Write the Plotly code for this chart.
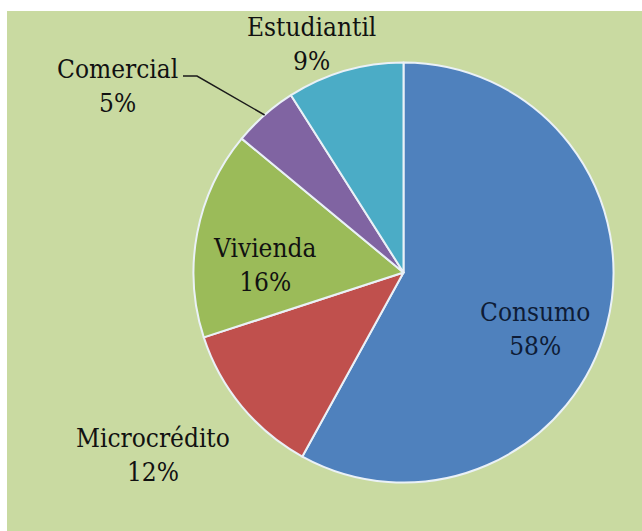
import math
import plotly.graph_objects as go

# Loan portfolio composition by credit type (percent)
labels = ["Consumo", "Microcrédito", "Vivienda", "Comercial", "Estudiantil"]
shares = [58, 12, 16, 5, 9]
colors = ["#4f81bd", "#c0504d", "#9bbb59", "#8064a2", "#4bacc6"]

W, H = 642, 531
BG = "#c9daa1"
SERIF = "DejaVu Serif Condensed, DejaVu Serif"

# Pie geometry in pixels
cx, cy, R = 403.5, 272.5, 210

# Label centres in pixels, one per category (same order as labels)
label_px = [(535, 329), (153, 455), (264, 265), (117, 86), (311, 44)]
label_colors = ["#0e1c36", "#111111", "#111111", "#111111", "#111111"]


def px(x):
    return x / W


def py(y):
    return 1 - y / H


fig = go.Figure(
    go.Pie(
        labels=labels,
        values=shares,
        sort=False,
        direction="clockwise",
        rotation=0,
        marker=dict(colors=colors, line=dict(color="#eaf1f7", width=2)),
        textinfo="none",
        hoverinfo="label+percent",
        showlegend=False,
        domain=dict(x=[px(cx - R), px(cx + R)], y=[py(cy + R), py(cy - R)]),
    )
)

annotations = []
for lab, val, (lx, ly), col in zip(labels, shares, label_px, label_colors):
    annotations.append(
        dict(
            x=px(lx), y=py(ly), xref="paper", yref="paper",
            text=f"{lab}<br>{val}%", showarrow=False,
            xanchor="center", yanchor="middle", align="center",
            font=dict(family=SERIF, size=26, color=col),
        )
    )

# Leader line for the small "Comercial" slice, pointing at its mid-angle
total = sum(shares)
start = sum(shares[:3]) / total * 360
mid = start + shares[3] / total * 360 / 2
ex = cx + R * math.sin(math.radians(mid))
ey = cy - R * math.cos(math.radians(mid))
leader = dict(
    type="path", xref="paper", yref="paper",
    path=f"M {px(183)},{py(76)} L {px(197)},{py(76)} L {px(ex)},{py(ey)}",
    line=dict(color="#1a1a1a", width=1.5),
)

background = dict(
    type="rect", xref="paper", yref="paper", layer="below",
    x0=px(7), x1=1, y0=0, y1=py(11),
    fillcolor=BG, line=dict(width=0),
)

fig.update_layout(
    width=W, height=H,
    margin=dict(l=0, r=0, t=0, b=0),
    paper_bgcolor="white",
    shapes=[background, leader],
    annotations=annotations,
)

fig.write_html("out.html")
